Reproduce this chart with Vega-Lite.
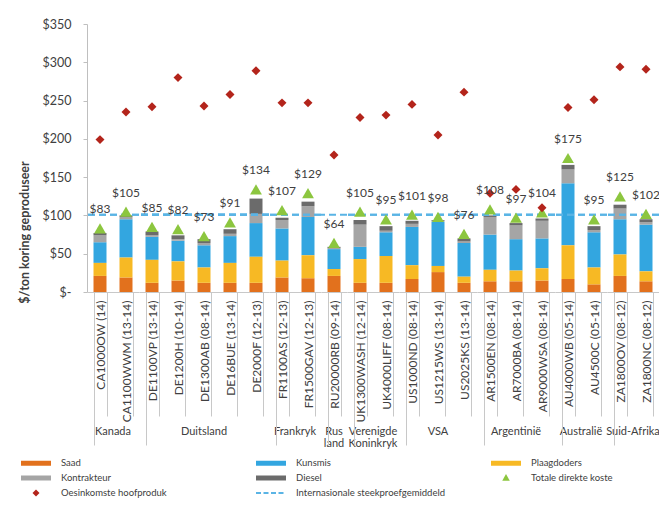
{
  "$schema": "https://vega.github.io/schema/vega-lite/v6.json",
  "padding": {"left": 18, "top": 18, "right": 0, "bottom": 0},
  "background": "white",
  "bounds": "flush",
  "config": {"font": "Lato", "view": {"stroke": null}},
  "data": {"values": [
    {"land": "Kanada", "plaas": "CA1000OW (14)", "Saad": 21, "Kunsmis": 27, "Plaagdoders": 17, "Kontrakteur": 9, "Diesel": 3, "totaal": 83, "oes": 199},
    {"land": "Kanada", "plaas": "CA1100WWM (13-14)", "Saad": 19, "Kunsmis": 50, "Plaagdoders": 26, "Kontrakteur": 3, "Diesel": 2, "totaal": 105, "oes": 235},
    {"land": "Duitsland", "plaas": "DE1100VP (13-14)", "Saad": 12, "Kunsmis": 30, "Plaagdoders": 30, "Kontrakteur": 2, "Diesel": 5, "totaal": 85, "oes": 242},
    {"land": "Duitsland", "plaas": "DE1200H (10-14)", "Saad": 15, "Kunsmis": 27, "Plaagdoders": 25, "Kontrakteur": 2, "Diesel": 5, "totaal": 82, "oes": 280},
    {"land": "Duitsland", "plaas": "DE1300AB (08-14)", "Saad": 12, "Kunsmis": 29, "Plaagdoders": 20, "Kontrakteur": 3, "Diesel": 5, "totaal": 73, "oes": 243},
    {"land": "Duitsland", "plaas": "DE16BUE (13-14)", "Saad": 12, "Kunsmis": 35, "Plaagdoders": 26, "Kontrakteur": 3, "Diesel": 6, "totaal": 91, "oes": 258},
    {"land": "Duitsland", "plaas": "DE2000F (12-13)", "Saad": 12, "Kunsmis": 44, "Plaagdoders": 34, "Kontrakteur": 12, "Diesel": 20, "totaal": 134, "oes": 289},
    {"land": "Frankryk", "plaas": "FR1100AS (12-13)", "Saad": 19, "Kunsmis": 42, "Plaagdoders": 22, "Kontrakteur": 11, "Diesel": 3, "totaal": 107, "oes": 247},
    {"land": "Frankryk", "plaas": "FR1500GAV (12-13)", "Saad": 18, "Kunsmis": 50, "Plaagdoders": 30, "Kontrakteur": 14, "Diesel": 6, "totaal": 129, "oes": 247},
    {"land": "Rusland", "plaas": "RU20000RB (09-14)", "Saad": 21, "Kunsmis": 26, "Plaagdoders": 9, "Kontrakteur": 1, "Diesel": 2, "totaal": 64, "oes": 179},
    {"land": "Verenigde Koninkryk", "plaas": "UK1300WASH (12-14)", "Saad": 12, "Kunsmis": 16, "Plaagdoders": 31, "Kontrakteur": 29, "Diesel": 6, "totaal": 105, "oes": 228},
    {"land": "Verenigde Koninkryk", "plaas": "UK4000LIFF (08-14)", "Saad": 12, "Kunsmis": 31, "Plaagdoders": 35, "Kontrakteur": 2, "Diesel": 6, "totaal": 95, "oes": 231},
    {"land": "VSA", "plaas": "US1000ND (08-14)", "Saad": 17, "Kunsmis": 50, "Plaagdoders": 18, "Kontrakteur": 4, "Diesel": 4, "totaal": 101, "oes": 245},
    {"land": "VSA", "plaas": "US1215WS (13-14)", "Saad": 26, "Kunsmis": 58, "Plaagdoders": 8, "Kontrakteur": 1, "Diesel": 1, "totaal": 98, "oes": 205},
    {"land": "VSA", "plaas": "US2025KS (13-14)", "Saad": 12, "Kunsmis": 44, "Plaagdoders": 8, "Kontrakteur": 2, "Diesel": 4, "totaal": 76, "oes": 261},
    {"land": "Argentinië", "plaas": "AR1500EN (08-14)", "Saad": 14, "Kunsmis": 46, "Plaagdoders": 15, "Kontrakteur": 23, "Diesel": 2, "totaal": 108, "oes": 129},
    {"land": "Argentinië", "plaas": "AR7000BA (08-14)", "Saad": 14, "Kunsmis": 41, "Plaagdoders": 14, "Kontrakteur": 18, "Diesel": 3, "totaal": 97, "oes": 134},
    {"land": "Argentinië", "plaas": "AR9000WSA (08-14)", "Saad": 15, "Kunsmis": 39, "Plaagdoders": 16, "Kontrakteur": 23, "Diesel": 3, "totaal": 104, "oes": 110},
    {"land": "Australië", "plaas": "AU4000WB (05-14)", "Saad": 17, "Kunsmis": 81, "Plaagdoders": 44, "Kontrakteur": 18, "Diesel": 6, "totaal": 175, "oes": 241},
    {"land": "Australië", "plaas": "AU4500C (05-14)", "Saad": 10, "Kunsmis": 46, "Plaagdoders": 22, "Kontrakteur": 3, "Diesel": 5, "totaal": 95, "oes": 251},
    {"land": "Suid-Afrika", "plaas": "ZA1800OV (08-12)", "Saad": 21, "Kunsmis": 46, "Plaagdoders": 28, "Kontrakteur": 14, "Diesel": 5, "totaal": 125, "oes": 294},
    {"land": "Suid-Afrika", "plaas": "ZA1800NC (08-12)", "Saad": 14, "Kunsmis": 61, "Plaagdoders": 13, "Kontrakteur": 3, "Diesel": 4, "totaal": 102, "oes": 291}
  ]},
  "facet": {
    "column": {
      "field": "land", "type": "nominal",
      "sort": ["Kanada", "Duitsland", "Frankryk", "Rusland", "Verenigde Koninkryk", "VSA", "Argentinië", "Australië", "Suid-Afrika"],
      "title": null,
      "header": {
        "labelOrient": "bottom",
        "labelFontSize": 11,
        "labelColor": "#404040",
        "labelPadding": 140,
        "labelBaseline": "middle",
        "labelLineHeight": 12,
        "labelExpr": "datum.value == 'Rusland' ? ['Rus', 'land'] : datum.value == 'Verenigde Koninkryk' ? ['Verenigde', 'Koninkryk'] : datum.value"
      }
    }
  },
  "spacing": 0,
  "resolve": {"scale": {"x": "independent"}},
  "spec": {
    "width": {"step": 26},
    "height": 268,
    "layer": [
      {
        "transform": [{"fold": ["Saad", "Kunsmis", "Plaagdoders", "Kontrakteur", "Diesel"], "as": ["reeks", "koste"]}],
        "mark": {"type": "bar"},
        "encoding": {
          "x": {"field": "plaas", "type": "nominal", "sort": null,
                "scale": {"paddingInner": 0.5, "paddingOuter": 0.25},
                "axis": {"title": null, "labelAngle": -90, "labelFontSize": 12, "labelColor": "#404040",
                         "tickBand": "extent",
                         "tickSize": {"condition": {"test": "datum.index == -1", "value": 153}, "value": 124},
                         "tickColor": "#c8c8c8", "domainColor": "#c8c8c8",
                         "labelPadding": -116, "labelOverlap": false, "labelLimit": 200}},
          "y": {"field": "koste", "type": "quantitative", "stack": "zero", "title": "$/ton koring geproduseer",
                "scale": {"domain": [0, 350], "nice": false},
                "axis": {"tickCount": 7, "grid": false, "labelFlush": false,
                         "labelExpr": "datum.value == 0 ? '$-' : '$' + datum.value",
                         "labelFontSize": 12.5, "labelColor": "#404040", "labelPadding": 12,
                         "tickSize": 4, "tickColor": "#bfbfbf", "domainColor": "#bfbfbf",
                         "titleFontSize": 12.5, "titleFontWeight": "bold", "titleColor": "#404040", "titlePadding": 11,
                         "titleAngle": 270, "titleAlign": "center", "titleBaseline": "bottom", "titleY": 208}},
          "color": {"field": "reeks", "type": "nominal",
                    "sort": ["Saad", "Kunsmis", "Plaagdoders", "Kontrakteur", "Diesel"],
                    "scale": {"domain": ["Saad", "Kunsmis", "Plaagdoders", "Kontrakteur", "Diesel", "Totale direkte koste", "Oesinkomste hoofproduk", "Internasionale steekproefgemiddeld"],
                              "range": ["#E2711D", "#33A6E0", "#F7B924", "#A5A5A5", "#6B6B6B", "#8CC63F", "#B3241B", "#5AB4E5"]},
                    "legend": {"orient": "none", "legendX": -56, "legendY": 434, "columns": 3, "direction": "horizontal", "title": null,
                               "gridAlign": "all", "columnPadding": 46, "rowPadding": 5,
                               "labelFontSize": 9.5, "labelColor": "#404040",
                               "symbolSize": 100, "symbolStrokeWidth": 0, "labelOffset": 20,
                               "symbolType": {"expr": "datum.value == 'Totale direkte koste' ? 'M0,-0.8L0.75,0.55L-0.75,0.55Z' : datum.value == 'Oesinkomste hoofproduk' ? 'M0,-0.7L0.7,0L0,0.7L-0.7,0Z' : datum.value == 'Internasionale steekproefgemiddeld' ? 'M-3,-0.2H-2V0.2H-3Z M-1.5,-0.2H-0.5V0.2H-1.5Z M0,-0.2H1V0.2H0Z M1.5,-0.2H2.5V0.2H1.5Z' : 'M-3,-0.5H3V0.5H-3Z'"}}}
        }
      },
      {
        "mark": {"type": "rule", "strokeDash": [7, 4], "strokeWidth": 2},
        "encoding": {
          "y": {"datum": 101, "type": "quantitative", "title": "$/ton koring geproduseer"},
          "color": {"datum": "Internasionale steekproefgemiddeld"}
        }
      },
      {
        "mark": {"type": "point", "shape": "triangle-up", "filled": true, "size": 140, "opacity": 1},
        "encoding": {
          "x": {"field": "plaas", "type": "nominal", "sort": null},
          "y": {"field": "totaal", "type": "quantitative", "title": "$/ton koring geproduseer"},
          "color": {"datum": "Totale direkte koste"}
        }
      },
      {
        "mark": {"type": "point", "shape": "diamond", "filled": true, "size": 80, "opacity": 1},
        "encoding": {
          "x": {"field": "plaas", "type": "nominal", "sort": null},
          "y": {"field": "oes", "type": "quantitative", "title": "$/ton koring geproduseer"},
          "color": {"datum": "Oesinkomste hoofproduk"}
        }
      },
      {
        "mark": {"type": "text", "dy": -19, "fontSize": 12, "color": "#404040"},
        "encoding": {
          "x": {"field": "plaas", "type": "nominal", "sort": null},
          "y": {"field": "totaal", "type": "quantitative", "title": "$/ton koring geproduseer"},
          "text": {"field": "totaal", "type": "quantitative", "format": "$d"}
        }
      }
    ]
  }
}
